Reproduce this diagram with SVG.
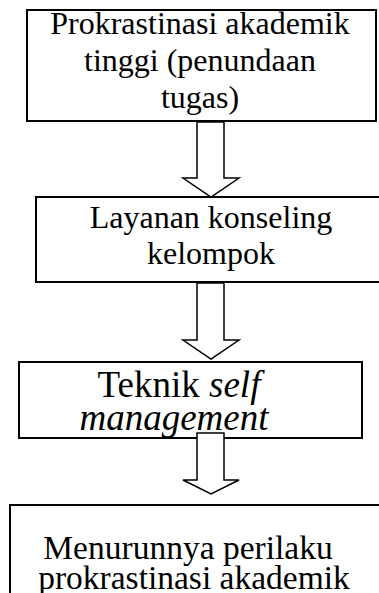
<svg xmlns="http://www.w3.org/2000/svg" width="379" height="593" viewBox="0 0 379 593">
<style>
.box{fill:#fff;stroke:#000;stroke-width:2}
.arr{fill:#fff;stroke:#000;stroke-width:1.5;stroke-linejoin:miter}
text{font-family:"Liberation Serif","Times New Roman",serif;font-size:32px;fill:#000;text-anchor:middle}
.it{font-style:italic}
.mid{font-size:37px}
.b4{font-size:33.5px}
</style>
<rect width="379" height="593" fill="#fff"/>
<g id="n1">
<rect class="box" x="27" y="10" width="349" height="111"/>
<text x="200" y="34">Prokrastinasi akademik</text>
<text x="200" y="71">tinggi (penundaan</text>
<text x="200" y="108">tugas)</text>
</g>
<g id="n2">
<rect class="box" x="36" y="197" width="360" height="85"/>
<text x="211" y="228">Layanan konseling</text>
<text x="211" y="264">kelompok</text>
</g>
<g id="n3">
<rect class="box" x="19" y="362" width="343" height="76"/>
<text x="179" y="397" class="mid">Teknik <tspan class="it">self</tspan></text>
<text x="174" y="430" class="mid it">management</text>
</g>
<g id="n4">
<rect class="box" x="10" y="505" width="400" height="120"/>
<text x="188" y="559" class="b4">Menurunnya perilaku</text>
<text x="194" y="589" class="b4">prokrastinasi akademik</text>
</g>
<g id="connectors">
<path class="arr" d="M197,122 H224 V178 H239 L211,197 L183,178 H197 Z"/>
<path class="arr" d="M197,283 H224 V340 H239 L211,359 L183,340 H197 Z"/>
<path class="arr" d="M197,433 H224 V480 H239 L211,494 L183,480 H197 Z"/>
</g>
</svg>
